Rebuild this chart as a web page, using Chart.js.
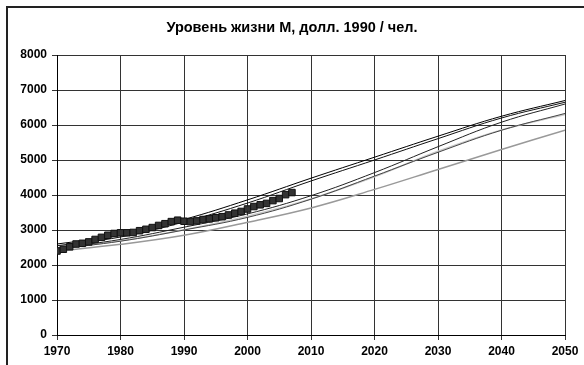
<!DOCTYPE html>
<html>
<head>
<meta charset="utf-8">
<script src="https://cdn.jsdelivr.net/npm/chart.js@4"></script>
<style>
  html, body { margin: 0; padding: 0; background: #fff; overflow: hidden; }
  #frame {
    position: absolute; left: 6px; top: 6px; width: 600px; height: 400px;
    border: 2px solid #222; box-sizing: border-box;
  }
  #wrap { position: absolute; left: 0; top: 0; width: 584px; height: 365px; }
  #title {
    position: absolute; left: 0; top: 19px; width: 584px; text-align: center;
    font: bold 14.5px Arial, "Liberation Sans", sans-serif; color: #000;
  }
</style>
</head>
<body>
<div id="frame"></div>
<div id="wrap"><canvas id="chart" width="584" height="365"></canvas></div>
<div id="title">Уровень жизни M, долл. 1990 / чел.</div>
<script>
// model runs, one value per decade
const years = [1970, 1980, 1990, 2000, 2010, 2020, 2030, 2040, 2050];
const run1 = [2600, 2850, 3300, 3860, 4480, 5080, 5680, 6250, 6700];
const run2 = [2550, 2800, 3230, 3770, 4400, 5000, 5610, 6200, 6650];
const run3 = [2480, 2730, 3080, 3460, 3980, 4640, 5380, 6080, 6600];
const run4 = [2460, 2680, 3000, 3360, 3880, 4540, 5220, 5850, 6330];
const run5 = [2450, 2690, 3010, 3390, 3890, 4520, 5250, 5860, 6300];
const run6 = [2400, 2590, 2850, 3220, 3630, 4160, 4730, 5300, 5850];

// observed data
const obsYears = [1970, 1971, 1972, 1973, 1974, 1975, 1976, 1977, 1978, 1979,
  1980, 1981, 1982, 1983, 1984, 1985, 1986, 1987, 1988, 1989,
  1990, 1991, 1992, 1993, 1994, 1995, 1996, 1997, 1998, 1999,
  2000, 2001, 2002, 2003, 2004, 2005, 2006, 2007];
const obsValues = [2400, 2450, 2520, 2600, 2620, 2660, 2730, 2790, 2850, 2900,
  2920, 2920, 2930, 2980, 3020, 3070, 3130, 3180, 3240, 3280,
  3250, 3240, 3260, 3300, 3320, 3350, 3380, 3430, 3480, 3530,
  3600, 3670, 3720, 3760, 3840, 3900, 4010, 4070];

const xTicks = [1970, 1980, 1990, 2000, 2010, 2020, 2030, 2040, 2050];
const yTicks = [0, 1000, 2000, 3000, 4000, 5000, 6000, 7000, 8000];

function pts(xs, ys) {
  return xs.map((x, i) => ({ x: x, y: ys[i] }));
}

function runLine(values, color, width) {
  return {
    data: pts(years, values),
    borderColor: color,
    borderWidth: width,
    pointRadius: 0,
    tension: 0.4,
    fill: false
  };
}

const tickFont = { family: 'Arial, "Liberation Sans", sans-serif', size: 12, weight: 'bold' };

new Chart(document.getElementById('chart'), {
  type: 'line',
  data: {
    datasets: [{
      data: pts(obsYears, obsValues),
      showLine: false,
      pointStyle: 'rect',
      pointRadius: 4.6,
      pointBackgroundColor: '#333',
      pointBorderColor: '#111',
      pointBorderWidth: 1
    },
      runLine(run1, '#000', 1),
      runLine(run2, '#111', 1),
      runLine(run3, '#222', 1),
      runLine(run4, '#444', 1),
      runLine(run5, '#c8c8c8', 1.5),
      runLine(run6, '#999', 1.5)
    ]
  },
  options: {
    responsive: false,
    animation: false,
    layout: { padding: { left: 0, right: 19, top: 55, bottom: 0 } },
    plugins: {
      legend: { display: false },
      tooltip: { enabled: false },
      title: { display: false }
    },
    scales: {
      x: {
        type: 'linear',
        min: 1970,
        max: 2050,
        afterBuildTicks: axis => { axis.ticks = xTicks.map(v => ({ value: v })); },
        afterFit: axis => { axis.height = 30; },
        ticks: { color: '#000', font: tickFont, padding: 4, maxRotation: 0, callback: v => String(v) },
        grid: { color: '#333', lineWidth: 1, tickLength: 5, drawTicks: true },
        border: { color: '#000', width: 1 }
      },
      y: {
        min: 0,
        max: 8000,
        afterBuildTicks: axis => { axis.ticks = yTicks.map(v => ({ value: v })); },
        afterFit: axis => { axis.width = 57; },
        ticks: { color: '#000', font: tickFont, padding: 5, callback: v => String(v) },
        grid: { color: '#333', lineWidth: 1, tickLength: 5, drawTicks: true },
        border: { color: '#000', width: 1 }
      }
    }
  }
});
</script>
</body>
</html>
